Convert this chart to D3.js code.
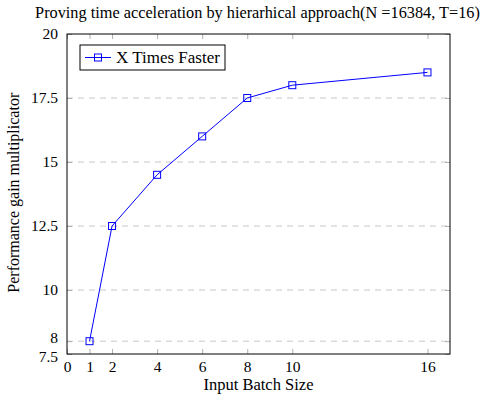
<!DOCTYPE html>
<html>
<head>
<meta charset="utf-8">
<script src="https://cdn.jsdelivr.net/npm/d3@7"></script>
<style>
  body { margin: 0; background: #fff; }
  svg text { font-family: "Liberation Serif", "Times New Roman", serif; }
</style>
</head>
<body>
<svg id="chart" width="482" height="398"></svg>
<script>
// Data
const batchSizes = [1, 2, 4, 6, 8, 10, 16];
const speedup = [8, 12.5, 14.5, 16, 17.5, 18, 18.5];
const xTicks = [0, 1, 2, 4, 6, 8, 10, 16];
const yTicks = [7.5, 8, 10, 12.5, 15, 17.5, 20];
const gridValues = [8, 10, 12.5, 15, 17.5];
const seriesName = 'X Times Faster';

const serif = '"Liberation Serif", "Times New Roman", serif';
const svg = d3.select('#chart');
const margin = { left: 67, right: 32, top: 34, bottom: 44 };
const width = 482, height = 398;

const x = d3.scaleLinear().domain([0, 17]).range([margin.left, width - margin.right]);
const y = d3.scaleLinear().domain([7.5, 20]).range([height - margin.bottom, margin.top]);

const blue = '#0000ff';
const tickGray = '#b0b0b0';

// Title
svg.append('text')
  .attr('x', 257.5).attr('y', 18)
  .attr('text-anchor', 'middle')
  .attr('font-family', serif)
  .attr('font-size', 16.3)
  .text('Proving time acceleration by hierarhical approach(N =16384, T=16)');

// Grid
svg.append('g')
  .selectAll('line')
  .data(gridValues)
  .join('line')
  .attr('x1', x(0)).attr('x2', x(17))
  .attr('y1', d => y(d)).attr('y2', d => y(d))
  .attr('stroke', '#c8c8c8')
  .attr('stroke-width', 1)
  .attr('stroke-dasharray', '6,5');

// Inner ticks: bottom/top for x, left/right for y
const xAxisBottom = d3.axisBottom(x).tickValues(xTicks).tickSize(-5).tickPadding(7).tickFormat(d3.format('d'));
const xAxisTop = d3.axisTop(x).tickValues(xTicks).tickSize(-5).tickFormat('');
const yAxisLeft = d3.axisLeft(y).tickValues(yTicks).tickSize(-5).tickPadding(9).tickFormat(d => d);
const yAxisRight = d3.axisRight(y).tickValues(yTicks).tickSize(-5).tickFormat('');

function styleAxis(g) {
  g.attr('font-family', serif);
  g.select('.domain').remove();
  g.selectAll('.tick line').attr('stroke', tickGray);
  g.selectAll('.tick text')
    .attr('font-family', serif)
    .attr('font-size', 15.5)
    .attr('fill', '#000');
}

svg.append('g').attr('transform', `translate(0,${y(7.5)})`).call(xAxisBottom).call(styleAxis);
svg.append('g').attr('transform', `translate(0,${y(20)})`).call(xAxisTop).call(styleAxis);
const yAxisG = svg.append('g').attr('transform', `translate(${x(0)},0)`).call(yAxisLeft).call(styleAxis);
svg.append('g').attr('transform', `translate(${x(17)},0)`).call(yAxisRight).call(styleAxis);

// keep the 8 and 7.5 labels apart like the reference
yAxisG.selectAll('.tick text').filter(d => d === 8).attr('dy', '0.1em');
yAxisG.selectAll('.tick text').filter(d => d === 7.5).attr('dy', '0.5em');

// Frame
svg.append('rect')
  .attr('x', x(0)).attr('y', y(20))
  .attr('width', x(17) - x(0)).attr('height', y(7.5) - y(20))
  .attr('fill', 'none').attr('stroke', '#000').attr('stroke-width', 1);

// Series
const points = batchSizes.map((b, i) => [b, speedup[i]]);
svg.append('path')
  .datum(points)
  .attr('fill', 'none')
  .attr('stroke', blue)
  .attr('stroke-width', 1)
  .attr('d', d3.line().x(d => x(d[0])).y(d => y(d[1])));

svg.append('g')
  .selectAll('rect')
  .data(points)
  .join('rect')
  .attr('x', d => x(d[0]) - 3.5).attr('y', d => y(d[1]) - 3.5)
  .attr('width', 7).attr('height', 7)
  .attr('fill', 'none').attr('stroke', blue).attr('stroke-width', 1);

// Legend
const legend = svg.append('g').attr('transform', 'translate(80,45)');
legend.append('rect')
  .attr('width', 145).attr('height', 25)
  .attr('fill', '#fff').attr('stroke', '#000').attr('stroke-width', 1);
legend.append('line')
  .attr('x1', 5).attr('x2', 31).attr('y1', 12.5).attr('y2', 12.5)
  .attr('stroke', blue);
legend.append('rect')
  .attr('x', 14.5).attr('y', 9).attr('width', 7).attr('height', 7)
  .attr('fill', 'none').attr('stroke', blue);
legend.append('text')
  .attr('x', 36).attr('y', 18)
  .attr('font-family', serif)
  .attr('font-size', 17)
  .text(seriesName);

// Axis labels
svg.append('text')
  .attr('x', x(8.5)).attr('y', 390)
  .attr('text-anchor', 'middle')
  .attr('font-family', serif)
  .attr('font-size', 16.5)
  .text('Input Batch Size');

svg.append('text')
  .attr('transform', `translate(19,${y(13.8)}) rotate(-90)`)
  .attr('text-anchor', 'middle')
  .attr('font-family', serif)
  .attr('font-size', 16)
  .text('Performance gain multiplicator');
</script>
</body>
</html>
